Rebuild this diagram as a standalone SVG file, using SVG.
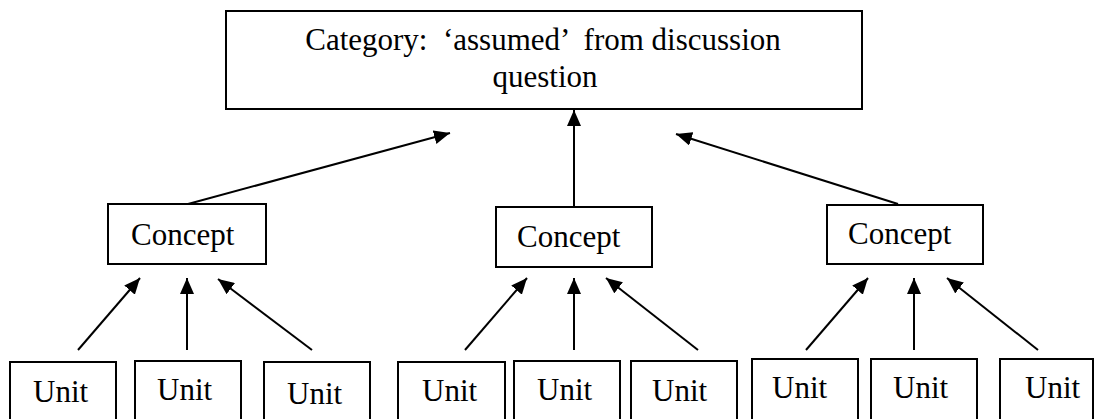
<svg xmlns="http://www.w3.org/2000/svg" width="1096" height="419" viewBox="0 0 1096 419">
  <style>
    .box { fill: #ffffff; stroke: #000000; stroke-width: 2; }
    .lbl { font-family: "Liberation Serif", "Times New Roman", serif; font-size: 31px; fill: #000000; }
    .edge { stroke: #000000; stroke-width: 2; fill: none; marker-end: url(#head); }
  </style>
  <defs>
    <marker id="head" viewBox="0 0 16 14" refX="16" refY="7" markerWidth="16" markerHeight="14" markerUnits="userSpaceOnUse" orient="auto">
      <path d="M0,0 L16,7 L0,14 Z" fill="#000000"/>
    </marker>
  </defs>
  <rect width="1096" height="419" fill="#ffffff"/>

  <!-- category -->
  <g id="category">
    <rect class="box" x="226" y="11" width="636" height="98"/>
    <text class="lbl" x="543" y="50" text-anchor="middle" xml:space="preserve">Category:  ‘assumed’  from discussion</text>
    <text class="lbl" x="545" y="87" text-anchor="middle">question</text>
  </g>

  <!-- concepts -->
  <g id="concept-1">
    <rect class="box" x="108" y="204" width="158" height="60"/>
    <text class="lbl" x="131" y="245">Concept</text>
  </g>
  <g id="concept-2">
    <rect class="box" x="496" y="207" width="156" height="60"/>
    <text class="lbl" x="517" y="247">Concept</text>
  </g>
  <g id="concept-3">
    <rect class="box" x="827" y="205" width="156" height="59"/>
    <text class="lbl" x="848" y="244">Concept</text>
  </g>

  <!-- units -->
  <g id="unit-1"><rect class="box" x="10" y="362" width="106" height="70"/><text class="lbl" x="33" y="402">Unit</text></g>
  <g id="unit-2"><rect class="box" x="135" y="361" width="106" height="70"/><text class="lbl" x="157" y="400">Unit</text></g>
  <g id="unit-3"><rect class="box" x="264" y="362" width="106" height="70"/><text class="lbl" x="287" y="404">Unit</text></g>
  <g id="unit-4"><rect class="box" x="398" y="362" width="107" height="70"/><text class="lbl" x="422" y="401">Unit</text></g>
  <g id="unit-5"><rect class="box" x="514" y="361" width="106" height="70"/><text class="lbl" x="537" y="400">Unit</text></g>
  <g id="unit-6"><rect class="box" x="631" y="361" width="106" height="70"/><text class="lbl" x="652" y="401">Unit</text></g>
  <g id="unit-7"><rect class="box" x="752" y="359" width="106" height="70"/><text class="lbl" x="772" y="398">Unit</text></g>
  <g id="unit-8"><rect class="box" x="871" y="359" width="106" height="70"/><text class="lbl" x="893" y="398">Unit</text></g>
  <g id="unit-9"><rect class="box" x="1000" y="359" width="93" height="70"/><text class="lbl" x="1025" y="398">Unit</text></g>

  <!-- connectors -->
  <g id="connectors">
    <line class="edge" x1="188" y1="204" x2="450" y2="133"/>
    <line class="edge" x1="574" y1="207" x2="574" y2="110"/>
    <line class="edge" x1="898" y1="204" x2="676" y2="134"/>

    <line class="edge" x1="78" y1="350" x2="140" y2="278"/>
    <line class="edge" x1="187" y1="350" x2="187" y2="278"/>
    <line class="edge" x1="312" y1="350" x2="218" y2="279"/>

    <line class="edge" x1="465" y1="350" x2="527" y2="278"/>
    <line class="edge" x1="574" y1="350" x2="574" y2="278"/>
    <line class="edge" x1="698" y1="350" x2="606" y2="278"/>

    <line class="edge" x1="806" y1="350" x2="868" y2="278"/>
    <line class="edge" x1="914" y1="350" x2="914" y2="278"/>
    <line class="edge" x1="1038" y1="350" x2="947" y2="278"/>
  </g>
</svg>
